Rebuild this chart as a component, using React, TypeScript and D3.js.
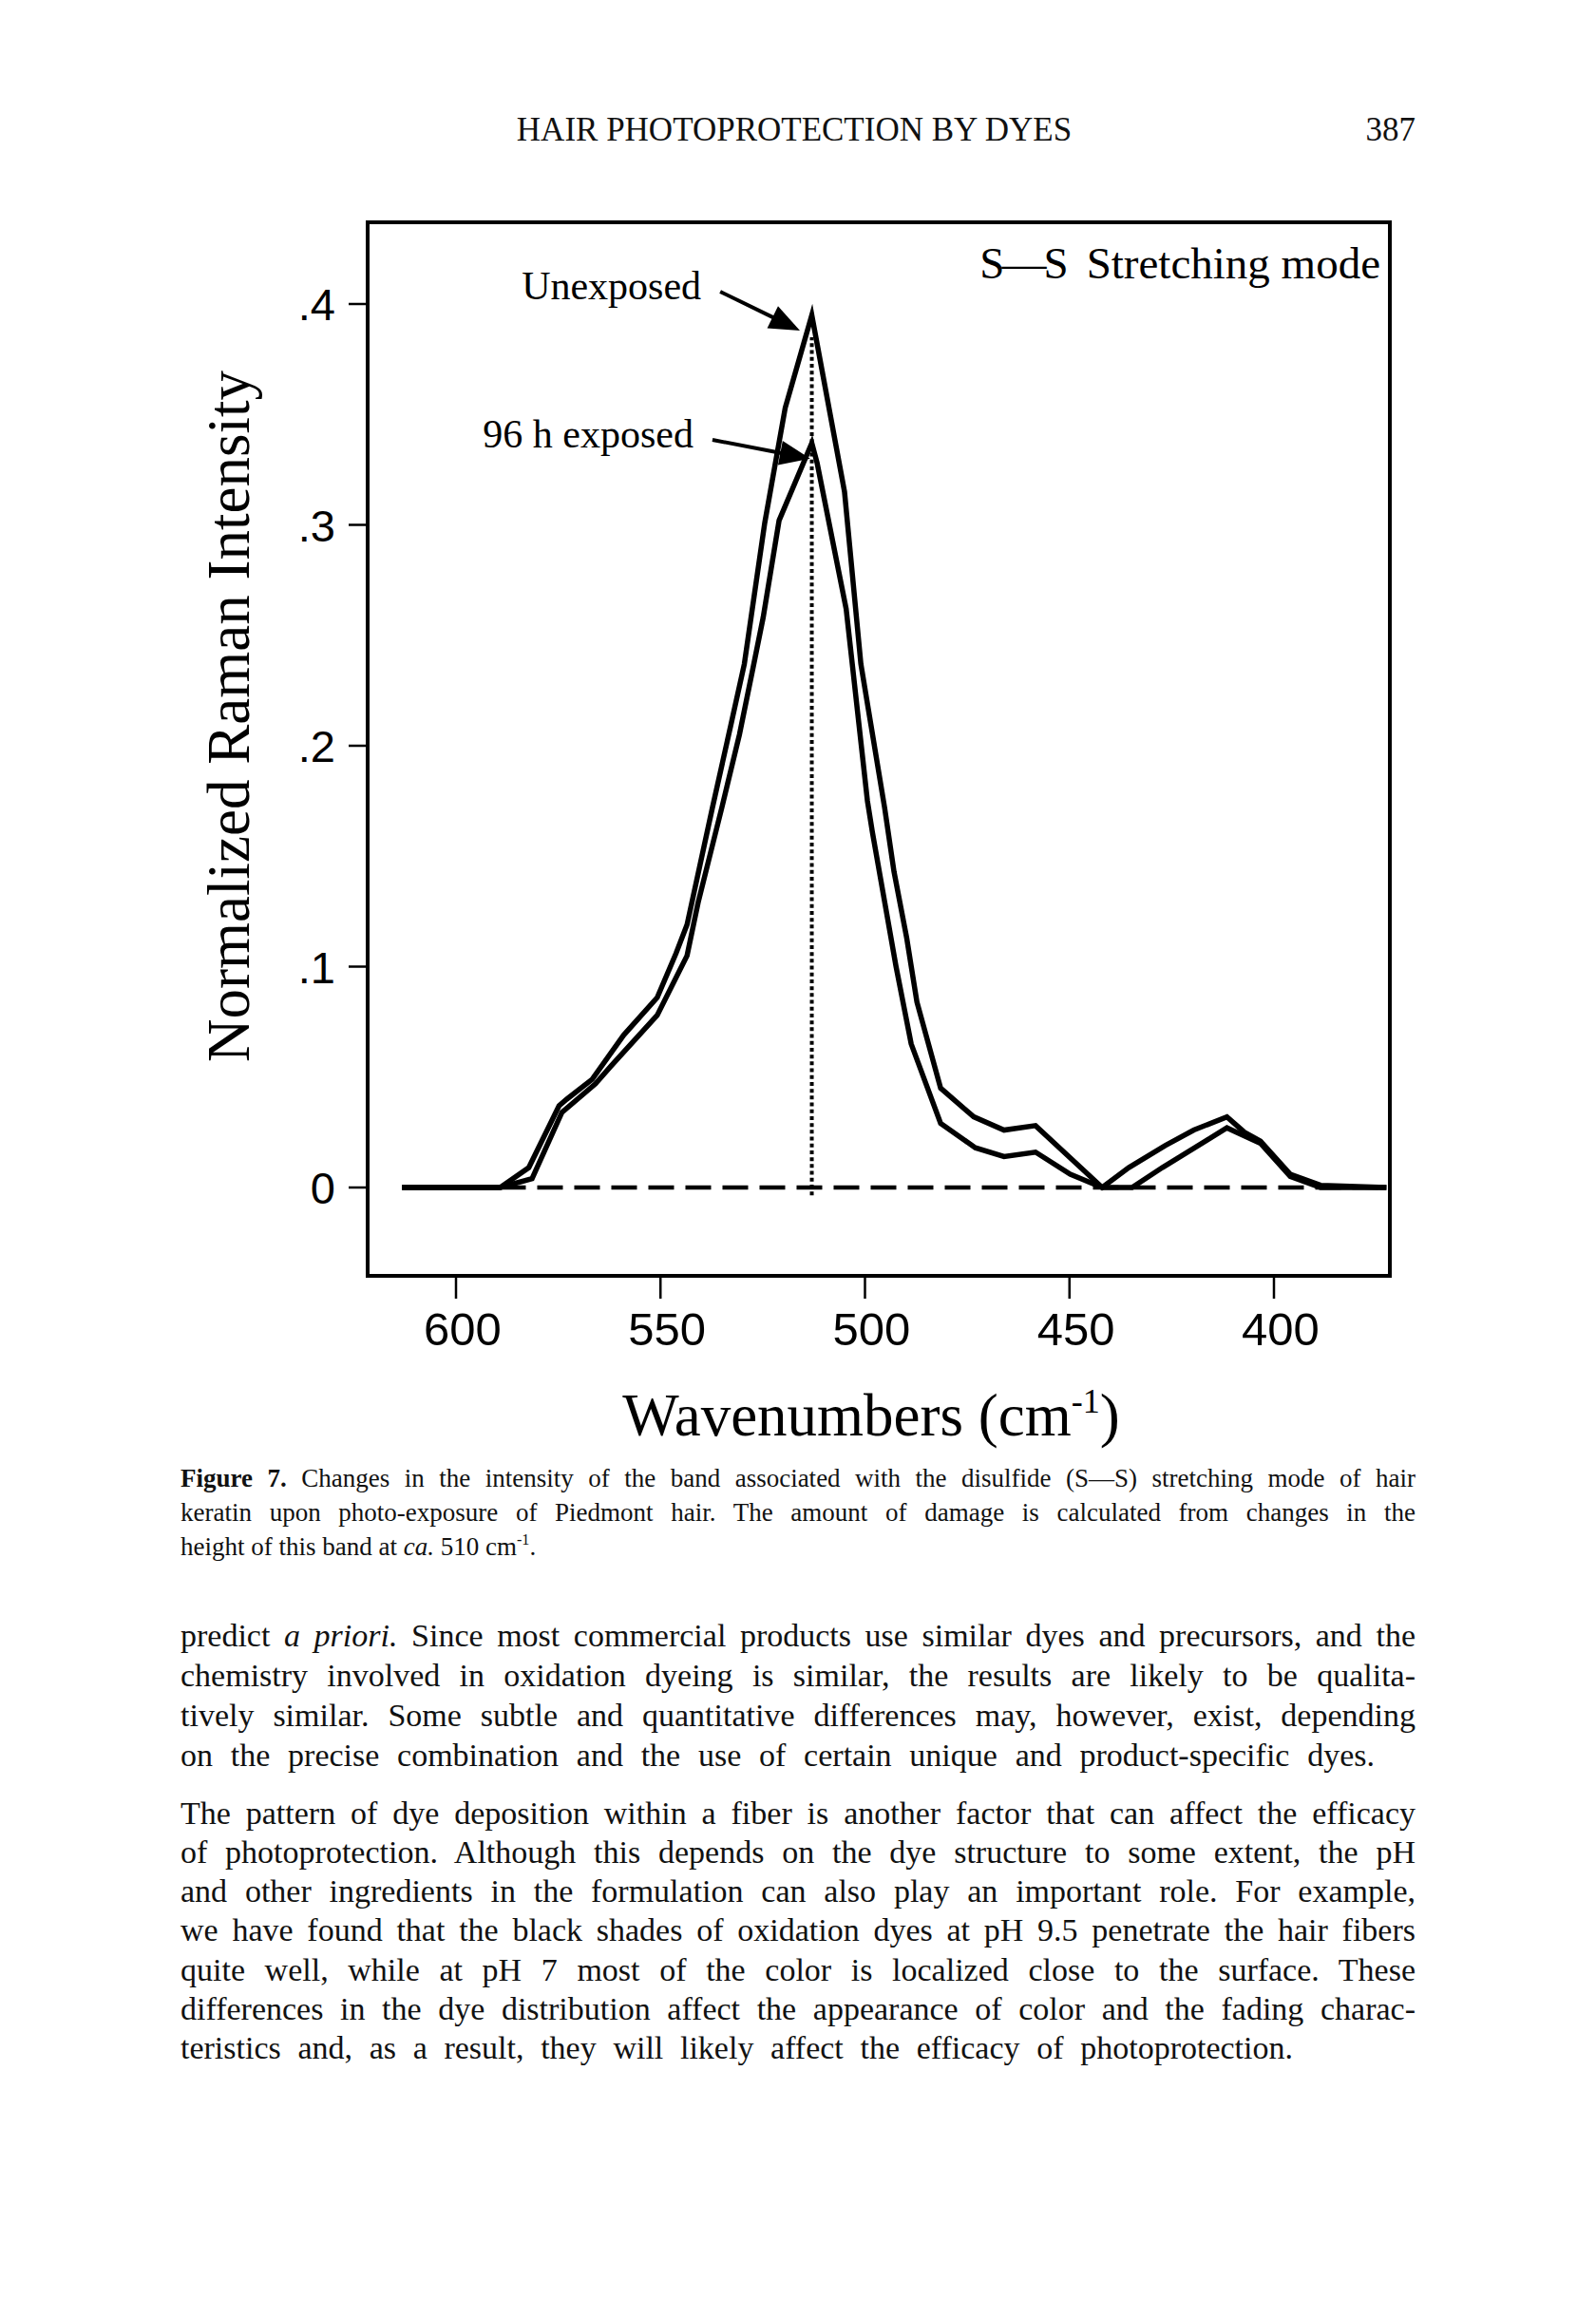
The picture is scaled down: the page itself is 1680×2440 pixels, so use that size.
import React, { useEffect, useRef } from "react";
import * as d3 from "d3";

// ---------- data ----------
const unexposedWavenumber = [613.2, 589.2, 582.2, 574.8, 572.9, 566.7, 559.0, 550.8, 546.2, 543.5, 537.3, 532.6, 529.5, 524.5, 519.5, 513.0, 505.0, 501.0, 495.2, 492.9, 489.8, 487.3, 481.5, 473.4, 466.0, 458.3, 442.0, 435.5, 426.6, 419.6, 411.5, 407.2, 403.3, 396.0, 388.6, 372.5];
const unexposedIntensity = [0, 0, 0.009, 0.037, 0.040, 0.049, 0.069, 0.086, 0.106, 0.119, 0.172, 0.211, 0.237, 0.301, 0.353, 0.395, 0.315, 0.237, 0.172, 0.143, 0.113, 0.084, 0.045, 0.032, 0.026, 0.028, 0.0, 0.009, 0.019, 0.026, 0.032, 0.025, 0.021, 0.006, 0.001, 0];

const exposedWavenumber = [613.2, 589.2, 581.4, 574.1, 565.9, 562.1, 550.8, 543.5, 540.8, 535.0, 530.7, 527.4, 524.9, 521.0, 513.0, 511.7, 504.6, 499.4, 498.2, 492.4, 488.7, 481.5, 473.0, 466.0, 458.3, 449.8, 442.0, 434.7, 427.3, 411.5, 403.3, 396.0, 388.6, 372.5];
const exposedIntensity = [0, 0, 0.004, 0.034, 0.047, 0.055, 0.078, 0.105, 0.129, 0.172, 0.205, 0.235, 0.258, 0.302, 0.337, 0.328, 0.262, 0.175, 0.161, 0.100, 0.065, 0.029, 0.018, 0.014, 0.016, 0.006, 0, 0, 0.009, 0.027, 0.020, 0.005, 0, 0];

const xTicks = [600, 550, 500, 450, 400];
const xTickLabels = ["600", "550", "500", "450", "400"];
const yTicks = [0, 0.1, 0.2, 0.3, 0.4];
const yTickLabels = ["0", ".1", ".2", ".3", ".4"];

const peakWavenumber = 513;
const peakMarkerTop = 0.385;
const baselineStart = 589.2;
const baselineEnd = 371.7;

const annotationLabels = ["Unexposed", "96 h exposed"];
const annotationFromWn = [535.4, 537.3];
const annotationFromInt = [0.4056, 0.3385];
const annotationToWn = [515.9, 513.4];
const annotationToInt = [0.388, 0.330];

const panelTitle = ["S\u2014S", "Stretching mode"];
const xTitle = "Wavenumbers (cm";
const yTitle = "Normalized Raman Intensity";
const runningHead = "HAIR PHOTOPROTECTION BY DYES";
const pageNumber = "387";

type Seg = { t: string; i?: boolean; b?: boolean; sup?: boolean };

const captionLines: Seg[][] = [
  [{ t: "Figure 7.", b: true }, { t: " Changes in the intensity of the band associated with the disulfide (S\u2014S) stretching mode of hair" }],
  [{ t: "keratin upon photo-exposure of Piedmont hair. The amount of damage is calculated from changes in the" }],
  [{ t: "height of this band at " }, { t: "ca.", i: true }, { t: " 510 cm" }, { t: "-1", sup: true }, { t: "." }],
];
const captionJustify = [true, true, false];

const bodyLines: Seg[][] = [
  [{ t: "predict " }, { t: "a priori.", i: true }, { t: " Since most commercial products use similar dyes and precursors, and the" }],
  [{ t: "chemistry involved in oxidation dyeing is similar, the results are likely to be qualita-" }],
  [{ t: "tively similar. Some subtle and quantitative differences may, however, exist, depending" }],
  [{ t: "on the precise combination and the use of certain unique and product-specific dyes." }],
  [{ t: "The pattern of dye deposition within a fiber is another factor that can affect the efficacy" }],
  [{ t: "of photoprotection. Although this depends on the dye structure to some extent, the pH" }],
  [{ t: "and other ingredients in the formulation can also play an important role. For example," }],
  [{ t: "we have found that the black shades of oxidation dyes at pH 9.5 penetrate the hair fibers" }],
  [{ t: "quite well, while at pH 7 most of the color is localized close to the surface. These" }],
  [{ t: "differences in the dye distribution affect the appearance of color and the fading charac-" }],
  [{ t: "teristics and, as a result, they will likely affect the efficacy of photoprotection." }],
];
const bodyWidths = [1300, 1300, 1300, 1257, 1300, 1300, 1300, 1300, 1300, 1300, 1171];
const bodyBaselines = [1733, 1775, 1817, 1859, 1920, 1961, 2002, 2043, 2085, 2126, 2167];

// ---------- layout ----------
const W = 1680;
const H = 2440;
const frame = { left: 387, right: 1463, top: 234, bottom: 1343 };
const SERIF = "'Liberation Serif', 'Times New Roman', serif";
const SANS = "'Liberation Sans', Arial, sans-serif";

function renderLine(
  parent: d3.Selection<any, unknown, null, undefined>,
  x: number,
  y: number,
  segs: Seg[],
  size: number,
  width: number | null
) {
  const text = parent
    .append("text")
    .attr("x", x)
    .attr("y", y)
    .attr("font-family", SERIF)
    .attr("font-size", size)
    .attr("fill", "#111");
  let shifted = 0;
  segs.forEach((s) => {
    const ts = text.append("tspan").text(s.t);
    if (s.i) ts.attr("font-style", "italic");
    if (s.b) ts.attr("font-weight", "bold");
    if (s.sup) {
      ts.attr("font-size", size * 0.6).attr("dy", -size * 0.4);
      shifted = size * 0.4;
    } else if (shifted) {
      ts.attr("dy", shifted);
      shifted = 0;
    }
  });
  if (width) {
    const natural = (text.node() as SVGTextElement).getComputedTextLength();
    const full = segs.map((s) => s.t).join("");
    const spaces = (full.match(/ /g) || []).length;
    if (spaces > 0) text.attr("word-spacing", (width - natural) / spaces);
  }
  return text;
}

export default function App() {
  const ref = useRef<SVGSVGElement | null>(null);

  useEffect(() => {
    const svg = d3.select(ref.current);
    svg.selectAll("*").remove();

    svg.append("rect").attr("width", W).attr("height", H).attr("fill", "#fff");

    const x = d3.scaleLinear().domain([600, 400]).range([480, 1341]);
    const y = d3.scaleLinear().domain([0, 0.4]).range([1250, 320]);

    // running head
    svg
      .append("text")
      .attr("x", 836)
      .attr("y", 148)
      .attr("text-anchor", "middle")
      .attr("font-family", SERIF)
      .attr("font-size", 35)
      .attr("fill", "#111")
      .text(runningHead);
    svg
      .append("text")
      .attr("x", 1490)
      .attr("y", 148)
      .attr("text-anchor", "end")
      .attr("font-family", SERIF)
      .attr("font-size", 35)
      .attr("fill", "#111")
      .text(pageNumber);

    // frame
    svg
      .append("rect")
      .attr("x", frame.left)
      .attr("y", frame.top)
      .attr("width", frame.right - frame.left)
      .attr("height", frame.bottom - frame.top)
      .attr("fill", "none")
      .attr("stroke", "#000")
      .attr("stroke-width", 4);

    // x ticks
    const gx = svg.append("g");
    xTicks.forEach((t, i) => {
      gx.append("line")
        .attr("x1", x(t))
        .attr("x2", x(t))
        .attr("y1", frame.bottom)
        .attr("y2", frame.bottom + 24)
        .attr("stroke", "#000")
        .attr("stroke-width", 2.5);
      gx.append("text")
        .attr("x", x(t) + 7)
        .attr("y", 1416)
        .attr("text-anchor", "middle")
        .attr("font-family", SANS)
        .attr("font-size", 49)
        .attr("fill", "#000")
        .text(xTickLabels[i]);
    });

    // y ticks
    const gy = svg.append("g");
    yTicks.forEach((t, i) => {
      gy.append("line")
        .attr("x1", frame.left - 20)
        .attr("x2", frame.left)
        .attr("y1", y(t))
        .attr("y2", y(t))
        .attr("stroke", "#000")
        .attr("stroke-width", 2.5);
      gy.append("text")
        .attr("x", frame.left - 34)
        .attr("y", y(t) + 17)
        .attr("text-anchor", "end")
        .attr("font-family", SANS)
        .attr("font-size", 47)
        .attr("fill", "#000")
        .text(yTickLabels[i]);
    });

    // axis titles
    const xt = svg
      .append("text")
      .attr("x", 917)
      .attr("y", 1511)
      .attr("text-anchor", "middle")
      .attr("font-family", SERIF)
      .attr("font-size", 63)
      .attr("fill", "#000");
    xt.append("tspan").text(xTitle);
    xt.append("tspan").attr("font-size", 36).attr("dy", -24).text("-1");
    xt.append("tspan").attr("dy", 24).text(")");

    svg
      .append("text")
      .attr("transform", "translate(262,754) rotate(-90)")
      .attr("text-anchor", "middle")
      .attr("font-family", SERIF)
      .attr("font-size", 63)
      .attr("fill", "#000")
      .text(yTitle);

    // panel title
    const pt = svg
      .append("text")
      .attr("x", 1453)
      .attr("y", 293)
      .attr("text-anchor", "end")
      .attr("font-family", SERIF)
      .attr("font-size", 47)
      .attr("fill", "#000");
    pt.append("tspan").attr("letter-spacing", -3).text(panelTitle[0]);
    pt.append("tspan").attr("dx", 22).text(panelTitle[1]);

    // dashed baseline
    svg
      .append("line")
      .attr("x1", x(baselineStart))
      .attr("x2", x(baselineEnd))
      .attr("y1", y(0))
      .attr("y2", y(0))
      .attr("stroke", "#000")
      .attr("stroke-width", 4.5)
      .attr("stroke-dasharray", "27,12");

    // dotted peak line
    svg
      .append("line")
      .attr("x1", x(peakWavenumber))
      .attr("x2", x(peakWavenumber))
      .attr("y1", y(-0.0035))
      .attr("y2", y(peakMarkerTop))
      .attr("stroke", "#000")
      .attr("stroke-width", 4)
      .attr("stroke-dasharray", "4,3.2");

    // curves
    const line = d3
      .line<[number, number]>()
      .x((d) => x(d[0]))
      .y((d) => y(d[1]));
    const series = [
      unexposedWavenumber.map((w, i) => [w, unexposedIntensity[i]] as [number, number]),
      exposedWavenumber.map((w, i) => [w, exposedIntensity[i]] as [number, number]),
    ];
    series.forEach((s) => {
      svg
        .append("path")
        .attr("d", line(s) as string)
        .attr("fill", "none")
        .attr("stroke", "#000")
        .attr("stroke-width", 5.5)
        .attr("stroke-linejoin", "miter")
        .attr("stroke-miterlimit", 6);
    });

    // annotations
    annotationLabels.forEach((lab, i) => {
      const x0 = x(annotationFromWn[i]);
      const y0 = y(annotationFromInt[i]);
      const x1 = x(annotationToWn[i]);
      const y1 = y(annotationToInt[i]);
      const len = Math.hypot(x1 - x0, y1 - y0);
      const ux = (x1 - x0) / len;
      const uy = (y1 - y0) / len;
      const L = 32;
      const hw = 13;
      const bx = x1 - ux * L;
      const by = y1 - uy * L;
      svg
        .append("line")
        .attr("x1", x0)
        .attr("y1", y0)
        .attr("x2", bx + ux * 4)
        .attr("y2", by + uy * 4)
        .attr("stroke", "#000")
        .attr("stroke-width", 4);
      svg
        .append("polygon")
        .attr(
          "points",
          [
            [x1, y1],
            [bx - uy * hw, by + ux * hw],
            [bx + uy * hw, by - ux * hw],
          ]
            .map((p) => p.join(","))
            .join(" ")
        )
        .attr("fill", "#000");
      svg
        .append("text")
        .attr("x", x0 - 20)
        .attr("y", y0 + 8)
        .attr("text-anchor", "end")
        .attr("font-family", SERIF)
        .attr("font-size", 42)
        .attr("fill", "#000")
        .text(lab);
    });

    // caption
    const captionBaselines = [1565, 1601, 1637];
    captionLines.forEach((segs, i) => {
      renderLine(svg as any, 190, captionBaselines[i], segs, 27, captionJustify[i] ? 1300 : null);
    });

    // body text
    bodyLines.forEach((segs, i) => {
      renderLine(svg as any, 190, bodyBaselines[i], segs, 34, bodyWidths[i]);
    });
  }, []);

  return (
    <svg
      ref={ref}
      width={W}
      height={H}
      style={{ position: "absolute", left: 0, top: 0, display: "block" }}
    />
  );
}
